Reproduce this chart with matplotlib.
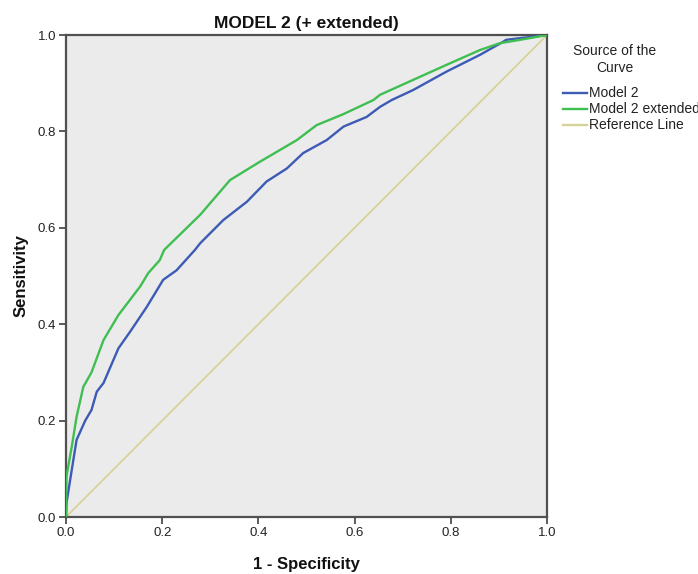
import matplotlib
matplotlib.use("Agg")
import matplotlib.pyplot as plt
from matplotlib.lines import Line2D

plt.rcParams['font.family'] = ['Liberation Sans', 'DejaVu Sans']

# Data
model2_x = [0.0, 0.001, 0.012, 0.022, 0.040, 0.053, 0.064, 0.078, 0.109, 0.133, 0.168,
            0.202, 0.230, 0.268, 0.279, 0.327, 0.376, 0.417, 0.459, 0.493, 0.542,
            0.577, 0.625, 0.653, 0.677, 0.722, 0.791, 0.861, 0.909, 0.915, 1.0]
model2_y = [0.0, 0.029, 0.098, 0.160, 0.200, 0.222, 0.260, 0.278, 0.350, 0.384, 0.436,
            0.492, 0.512, 0.554, 0.568, 0.616, 0.654, 0.696, 0.723, 0.755, 0.782,
            0.810, 0.830, 0.851, 0.865, 0.886, 0.924, 0.959, 0.986, 0.990, 1.0]

ext_x = [0.0, 0.001, 0.012, 0.022, 0.036, 0.053, 0.078, 0.109, 0.154, 0.171, 0.195,
         0.204, 0.279, 0.341, 0.403, 0.480, 0.521, 0.577, 0.639, 0.653, 0.722,
         0.791, 0.861, 0.902, 0.944, 1.0]
ext_y = [0.0, 0.084, 0.146, 0.208, 0.270, 0.300, 0.367, 0.419, 0.478, 0.506, 0.533,
         0.554, 0.627, 0.699, 0.737, 0.782, 0.813, 0.836, 0.865, 0.876, 0.907,
         0.938, 0.969, 0.983, 0.990, 1.0]

ref_x = [0.0, 1.0]
ref_y = [0.0, 1.0]

series_names = ["Model 2", "Model 2 extended", "Reference Line"]
colors = ["#3D5BB5", "#3FBE52", "#D6D39A"]
ticks = [0.0, 0.2, 0.4, 0.6, 0.8, 1.0]
tick_labels = ["0.0", "0.2", "0.4", "0.6", "0.8", "1.0"]

W, H = 698, 574
fig = plt.figure(figsize=(W / 100, H / 100), dpi=100)
fig.patch.set_facecolor("white")
ax = fig.add_axes([66 / W, (H - 517) / H, (547 - 66) / W, (517 - 35) / H])
ax.set_facecolor("#EBEBEB")

ax.plot(ref_x, ref_y, color=colors[2], lw=1.3, zorder=2)
ax.plot(model2_x, model2_y, color=colors[0], lw=1.7, zorder=3)
ax.plot(ext_x, ext_y, color=colors[1], lw=1.7, zorder=4)

ax.set_xlim(0, 1)
ax.set_ylim(0, 1)
ax.set_xticks(ticks)
ax.set_xticklabels(tick_labels)
ax.set_yticks(ticks)
ax.set_yticklabels(tick_labels)
for s in ax.spines.values():
    s.set_color("#505050")
    s.set_linewidth(1.6)
ax.tick_params(direction="out", length=5, width=1.2, color="#404040",
               labelsize=9.5, labelcolor="#222222", pad=2)

ax.set_title("MODEL 2 (+ extended)", fontsize=12.5, fontweight="bold", pad=5, color="#111111")
ax.set_xlabel("1 - Specificity", fontsize=12, fontweight="bold", labelpad=13, color="#111111")
ax.set_ylabel("Sensitivity", fontsize=12, fontweight="bold", labelpad=7, color="#111111")

# Legend drawn manually (clipped at figure edge like the reference)
fig.text(615 / W, 1 - 51 / H, "Source of the", ha="center", va="center", fontsize=10, color="#222222")
fig.text(615 / W, 1 - 68 / H, "Curve", ha="center", va="center", fontsize=10, color="#222222")
ys = [93, 109, 125]
for name, c, yy in zip(series_names, colors, ys):
    fig.add_artist(Line2D([563 / W, 587 / W], [1 - yy / H, 1 - yy / H], color=c, lw=1.7))
    fig.text(589 / W, 1 - yy / H, name, ha="left", va="center", fontsize=10, color="#222222")

fig.savefig("out.png", dpi=100)
